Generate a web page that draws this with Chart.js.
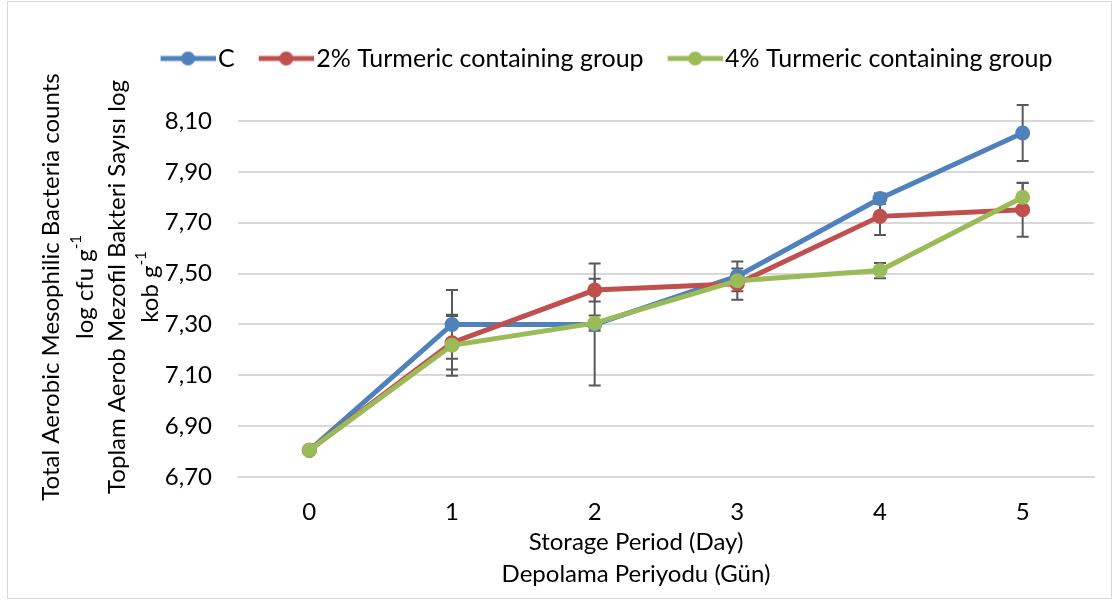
<!DOCTYPE html>
<html>
<head>
<meta charset="utf-8">
<script src="https://cdn.jsdelivr.net/npm/chart.js@4.4.1/dist/chart.umd.min.js"></script>
<style>
  html, body { margin: 0; padding: 0; background: #fff; }
  #wrap { width: 1117px; height: 600px; position: relative; }
</style>
</head>
<body>
<div id="wrap"><canvas id="chart"></canvas></div>
<script>
// Data
const days = ['0', '1', '2', '3', '4', '5'];
const yTicks = [6.70, 6.90, 7.10, 7.30, 7.50, 7.70, 7.90, 8.10];

const controlValues = [6.805, 7.30, 7.300, 7.490, 7.795, 8.053];
const controlErrors = [0, 0.135, 0.24, 0.03, 0.02, 0.11];

const turmeric2Values = [6.805, 7.228, 7.435, 7.460, 7.725, 7.751];
const turmeric2Errors = [0, 0.105, 0.045, 0.03, 0.073, 0.106];

const turmeric4Values = [6.805, 7.218, 7.305, 7.472, 7.512, 7.800];
const turmeric4Errors = [0, 0.12, 0.03, 0.075, 0.03, 0.056];

const FONT = 'Lato, "Open Sans", sans-serif';
const FS = 24;

// legend symbol: line with a dot, like Excel
function legendSymbol(color) {
    const c = document.createElement('canvas');
    c.width = 64;
    c.height = 16;
    const ctx = c.getContext('2d');
    ctx.strokeStyle = color;
    ctx.lineWidth = 5;
    ctx.beginPath();
    ctx.moveTo(9, 8);
    ctx.lineTo(64, 8);
    ctx.stroke();
    ctx.fillStyle = color;
    ctx.beginPath();
    ctx.arc(36.5, 8, 7, 0, Math.PI * 2);
    ctx.fill();
    return c;
}

const errorBars = {
    id: 'errorBars',
    beforeDatasetsDraw(chart) {
        const ctx = chart.ctx;
        const x = chart.scales.x;
        const y = chart.scales.y;
        ctx.save();
        ctx.strokeStyle = '#595959';
        ctx.lineWidth = 2;
        chart.data.datasets.forEach(ds => {
            ds.data.forEach((v, i) => {
                const e = ds.errors[i];
                if (!e) return;
                const px = x.getPixelForValue(i);
                const top = y.getPixelForValue(v + e);
                const bot = y.getPixelForValue(v - e);
                ctx.beginPath();
                ctx.moveTo(px, top);
                ctx.lineTo(px, bot);
                ctx.moveTo(px - 6, top);
                ctx.lineTo(px + 6, top);
                ctx.moveTo(px - 6, bot);
                ctx.lineTo(px + 6, bot);
                ctx.stroke();
            });
        });
        ctx.restore();
    }
};

// extra room under the legend, so the plot starts lower
const legendGap = {
    id: 'legendGap',
    afterInit(chart) {
        const fit = chart.legend.fit.bind(chart.legend);
        chart.legend.fit = function () {
            fit();
            this.height += 40;
        };
    }
};

// text with a trailing superscript
function drawSup(ctx, base, sup, cx, cy) {
    ctx.font = FS + 'px ' + FONT;
    const wb = ctx.measureText(base).width;
    ctx.font = '15px ' + FONT;
    const ws = sup ? ctx.measureText(sup).width : 0;
    const start = cx - (wb + ws) / 2;
    ctx.textAlign = 'left';
    ctx.textBaseline = 'middle';
    ctx.font = FS + 'px ' + FONT;
    ctx.fillText(base, start, cy);
    if (sup) {
        ctx.font = '15px ' + FONT;
        ctx.fillText(sup, start + wb, cy - 9);
    }
}

const axisTitles = {
    id: 'axisTitles',
    beforeDraw(chart) {
        const ctx = chart.ctx;
        ctx.save();
        ctx.fillStyle = '#fff';
        ctx.fillRect(0, 0, chart.width, chart.height);
        ctx.strokeStyle = '#d9d9d9';
        ctx.lineWidth = 1;
        ctx.strokeRect(7.5, 1.5, chart.width - 13, chart.height - 3);
        ctx.restore();
    },
    afterDraw(chart) {
        const ctx = chart.ctx;
        ctx.save();
        ctx.fillStyle = '#000';
        // x title
        drawSup(ctx, 'Storage Period (Day)', '', 636, 542);
        drawSup(ctx, 'Depolama Periyodu (Gün)', '', 636, 574);
        // y title
        ctx.translate(0, 287);
        ctx.rotate(-Math.PI / 2);
        drawSup(ctx, 'Total Aerobic Mesophilic Bacteria counts', '', 0, 51);
        drawSup(ctx, 'log cfu g', '-1', 0, 85);
        drawSup(ctx, 'Toplam Aerob Mezofil Bakteri Sayısı log', '', 0, 117);
        drawSup(ctx, 'kob g', '-1', 0, 150);
        ctx.restore();
    }
};

const series = [
    { label: 'C', data: controlValues, errors: controlErrors, color: '#4f81bd', order: 3 },
    { label: '2% Turmeric containing group', data: turmeric2Values, errors: turmeric2Errors, color: '#c0504d', order: 2 },
    { label: '4% Turmeric containing group', data: turmeric4Values, errors: turmeric4Errors, color: '#9bbb59', order: 1 }
];

const chart = new Chart(document.getElementById('chart'), {
    type: 'line',
    data: {
        labels: days,
        datasets: series.map(s => ({
            label: s.label,
            data: s.data,
            errors: s.errors,
            order: s.order,
            borderColor: s.color,
            backgroundColor: s.color,
            pointBackgroundColor: s.color,
            pointBorderColor: s.color,
            borderWidth: 5,
            pointRadius: 7.5,
            pointBorderWidth: 0,
            tension: 0,
            clip: false
        }))
    },
    options: {
        responsive: true,
        maintainAspectRatio: false,
        animation: false,
        layout: {
            padding: { left: 120, right: 23, top: 21, bottom: 0 }
        },
        plugins: {
            legend: {
                position: 'top',
                labels: {
                    color: '#000',
                    font: { family: FONT, size: 25 },
                    usePointStyle: true,
                    pointStyleWidth: 44,
                    padding: 25,
                    sort: (a, b) => a.datasetIndex - b.datasetIndex,
                    generateLabels(chart) {
                        const items = Chart.defaults.plugins.legend.labels.generateLabels(chart);
                        items.forEach(it => {
                            it.pointStyle = legendSymbol(series[it.datasetIndex].color);
                        });
                        return items;
                    }
                }
            },
            tooltip: { enabled: false }
        },
        scales: {
            x: {
                offset: true,
                grid: { display: false },
                border: { color: '#d9d9d9', width: 2 },
                ticks: {
                    color: '#000',
                    font: { family: FONT, size: FS },
                    padding: 13
                },
                afterFit(scale) { scale.height = 123; }
            },
            y: {
                min: 6.70,
                max: 8.10,
                afterBuildTicks(scale) {
                    scale.ticks = yTicks.map(v => ({ value: v }));
                },
                grid: { color: '#d9d9d9', lineWidth: 2, drawTicks: false },
                border: { display: false },
                ticks: {
                    color: '#000',
                    font: { family: FONT, size: FS },
                    padding: 26,
                    callback: v => v.toFixed(2).replace('.', ',')
                },
                afterFit(scale) { scale.width = 118; }
            }
        }
    },
    plugins: [errorBars, legendGap, axisTitles]
});
</script>
</body>
</html>
